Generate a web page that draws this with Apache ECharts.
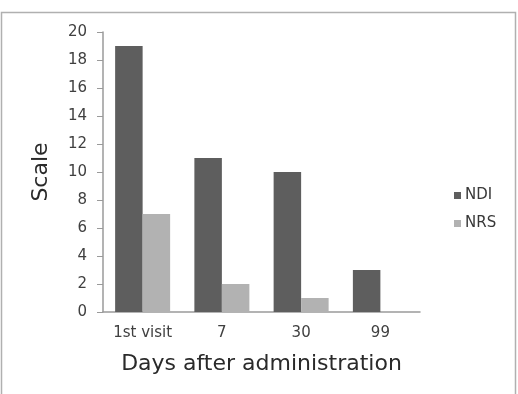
<!DOCTYPE html>
<html>
<head>
<meta charset="utf-8">
<script src="https://cdn.jsdelivr.net/npm/echarts@6/dist/echarts.min.js"></script>
<style>
  html, body { margin: 0; padding: 0; background: #fff; }
  #chart { width: 518px; height: 394px; }
</style>
</head>
<body>
<div id="chart"></div>
<script>
var categories = ["1st visit", "7", "30", "99"];
var ndiValues = [19, 11, 10, 3];
var nrsValues = [7, 2, 1, 0];
var yTicks = { min: 0, max: 20, step: 2 };

var myChart = echarts.init(document.getElementById("chart"));

var option = {
  backgroundColor: "#fff",
  animation: false,
  textStyle: { fontFamily: "DejaVu Sans, sans-serif" },
  graphic: [
    {
      type: "rect",
      shape: { x: 1.5, y: 12.5, width: 514, height: 400 },
      style: { fill: "none", stroke: "#b0b0b0", lineWidth: 1.5 },
    },
  ],
  grid: {
    left: 103,
    top: 32,
    right: 98,
    bottom: 82,
    containLabel: false,
  },
  legend: {
    orient: "vertical",
    left: 449,
    top: 183,
    icon: "rect",
    itemWidth: 7,
    itemHeight: 7,
    itemGap: 13,
    textStyle: { fontSize: 15, color: "#383838", padding: [0, 0, 0, -1] },
    data: ["NDI", "NRS"],
  },
  xAxis: {
    type: "category",
    data: categories,
    name: "Days after administration",
    nameLocation: "middle",
    nameGap: 41,
    nameTextStyle: { fontSize: 22, color: "#2a2a2a" },
    axisLine: { lineStyle: { color: "#9a9a9a", width: 1.5 } },
    axisTick: { show: false },
    axisLabel: { fontSize: 15, color: "#404040", margin: 14 },
  },
  yAxis: {
    type: "value",
    min: yTicks.min,
    max: yTicks.max,
    interval: yTicks.step,
    name: "Scale",
    nameLocation: "middle",
    nameGap: 51,
    nameTextStyle: { fontSize: 22, color: "#2a2a2a" },
    axisLine: { show: true, lineStyle: { color: "#9a9a9a", width: 1.5 } },
    axisTick: { show: true, length: 6, lineStyle: { color: "#9a9a9a" } },
    splitLine: { show: false },
    axisLabel: { fontSize: 15, color: "#404040", margin: 16 },
  },
  series: [
    {
      name: "NDI",
      type: "bar",
      data: ndiValues,
      barWidth: 27.5,
      barGap: "0%",
      itemStyle: { color: "#5e5e5e" },
    },
    {
      name: "NRS",
      type: "bar",
      data: nrsValues,
      barWidth: 27.5,
      barGap: "0%",
      itemStyle: { color: "#b2b2b2" },
    },
  ],
};

myChart.setOption(option);
</script>
</body>
</html>
